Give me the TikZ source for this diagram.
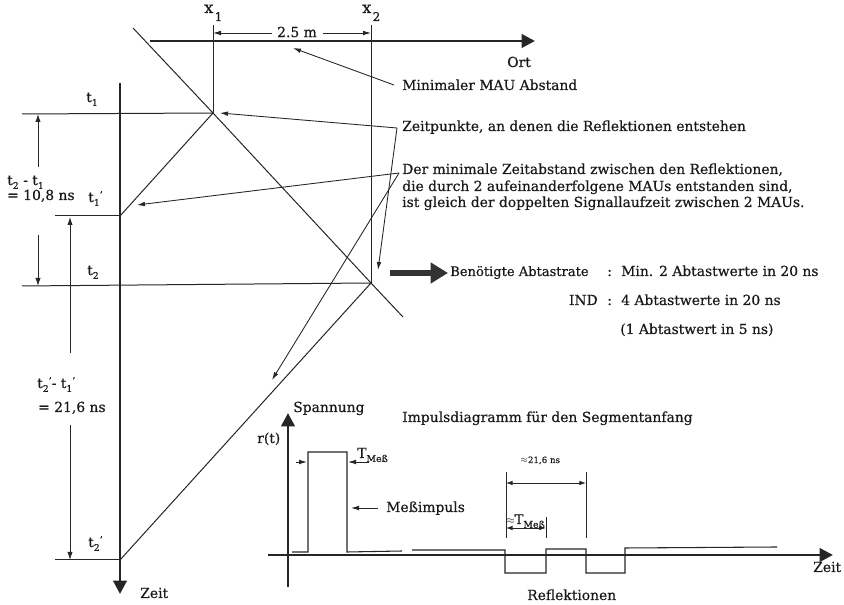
\documentclass[tikz,border=0pt]{standalone}
\usepackage{fontspec}
\setmainfont{DejaVu Serif}[FakeBold=0.5]
\usetikzlibrary{arrows.meta}

% lowered index as used in the labels t1, x1, T_Mess
\newcommand{\lowsub}[1]{\raisebox{-0.55ex}{\scriptsize #1}}
\newcommand{\primed}{\raisebox{0.55ex}{\scriptsize '}}

\begin{document}
\begin{tikzpicture}[x=0.75pt,y=-0.75pt,
  every node/.style={inner sep=0pt, text=black!90},
  txt/.style={font=\fontsize{10.4}{12}\selectfont, anchor=base west},
  small/.style={font=\fontsize{6.5}{8}\selectfont, anchor=base west},
  fine/.style={draw=black!85, line width=0.75pt},
  axisline/.style={draw=black!85, line width=2.2pt, -{Triangle[length=10pt,width=10pt]}},
  tip/.style={draw=black!85, line width=0.65pt, -{Latex[length=6pt,width=3.5pt]}},
  dimtip/.style={draw=black!85, line width=0.65pt, -{Latex[length=6pt,width=4pt]}},
  twotip/.style={draw=black!85, line width=0.65pt, {Latex[length=5pt,width=3.5pt]}-{Latex[length=5pt,width=3.5pt]}},
  signal/.style={draw=black!85, line width=0.8pt},
  fatarrow/.style={draw=black!80, line width=3.8pt, -{Triangle[length=13pt,width=15pt]}},
]
\useasboundingbox (0,0) rectangle (844,605);

% ---------- space-time diagram ----------
\coordinate (O0) at (150,41);
\coordinate (O1) at (535,41);
\coordinate (Z0) at (120,83);
\coordinate (Z1) at (120,594);
\coordinate (D0) at (133,28);
\coordinate (T1) at (213,113);
\coordinate (T2) at (371,283);
\coordinate (D1) at (403,317);
\coordinate (X1top) at (213,25);
\coordinate (X2top) at (371,25);
\coordinate (T1p) at (120,216);
\coordinate (T2p) at (120,560);
\coordinate (L1) at (22,114);
\coordinate (L1p) at (55,216);
\coordinate (L2) at (22,286);
\coordinate (L2p) at (55,560);

\draw[axisline] (O0) -- (O1);
\draw[axisline] (Z0) -- (Z1);
\node[txt] (ort) at (507,67) {Ort};
\node[txt] (zeitv) at (140,598) {Zeit};

% signal paths and station positions
\draw[fine] (D0) -- (T1) -- (T2) -- (D1);
\draw[fine] (X1top) -- (T1);
\draw[fine] (X2top) -- (T2);
\draw[fine] (T1) -- (T1p);
\draw[fine] (T2) -- (T2p);
\draw[fine] (L1) -- (T1);
\draw[fine] (L1p) -- (T1p);
\draw[fine] (L2) -- (T2);
\draw[fine] (L2p) -- (T2p);

% station labels and their distance
\node[txt] (x1) at (204,13) {\large x\hspace{1pt}\raisebox{-6pt}{\small 1}};
\node[txt] (x2) at (362,13) {\large x\hspace{1pt}\raisebox{-6pt}{\small 2}};
\node[font=\fontsize{10.4}{12}\selectfont] (dist) at (297,32) {2.5 m};
\coordinate (dL) at (272,33);
\coordinate (dR) at (323,33);
\draw[tip] (dL) -- (X1top |- dL);
\draw[tip] (dR) -- (X2top |- dR);

% time labels
\node[txt] (t1) at (86,102) {t\lowsub{1}};
\node[txt] (t1p) at (88,202) {t\lowsub{1}\primed};
\node[txt] (t2) at (87,275) {t\lowsub{2}};
\node[txt] (t2p) at (88,547) {t\lowsub{2}\primed};

% time differences
\coordinate (A1) at (38,114);
\coordinate (A1m) at (38,167);
\coordinate (A2m) at (38,235);
\coordinate (A2) at (38,286);
\draw[dimtip] (A1m) -- (A1);
\draw[dimtip] (A2m) -- (A2);
\node[txt] (dt1a) at (7,185) {t\lowsub{2} - t\lowsub{1}};
\node[txt] (dt1b) at (7,200) {= 10,8 ns};

\coordinate (B1) at (70,217);
\coordinate (B1m) at (70,353);
\coordinate (B2m) at (70,425);
\coordinate (B2) at (70,560);
\draw[dimtip] (B1m) -- (B1);
\draw[dimtip] (B2m) -- (B2);
\node[txt] (dt2a) at (37,388) {t\lowsub{2}\primed- t\lowsub{1}\primed};
\node[txt] (dt2b) at (38,412) {= 21,6 ns};

% annotations
\node[txt] (mau) at (402,90) {Minimaler MAU Abstand};
\coordinate (J0) at (394,85);
\coordinate (P0) at (293,48);
\draw[tip] (J0) -- (P0);

\node[txt] (zp) at (402,131) {Zeitpunkte, an denen die Reflektionen entstehen};
\coordinate (J1) at (397,128);
\coordinate (P1) at (220,113);
\coordinate (P2) at (378,270);
\draw[tip] (J1) -- (P1);
\draw[tip] (J1) -- (P2);

\node[txt] (der1) at (402,174) {Der minimale Zeitabstand zwischen den Reflektionen,};
\node[txt] (der2) at (402,191) {die durch 2 aufeinanderfolgene MAUs entstanden sind,};
\node[txt] (der3) at (402,207) {ist gleich der doppelten Signallaufzeit zwischen 2 MAUs.};
\coordinate (J2) at (399,173);
\coordinate (P3) at (137,205);
\coordinate (P4) at (272,380);
\draw[tip] (J2) -- (P3);
\draw[tip] (J2) -- (P4);

% sampling rate
\coordinate (F0) at (390,273);
\coordinate (F1) at (448,273);
\draw[fatarrow] (F0) -- (F1);
\node[txt, font=\fontsize{9.8}{12}\selectfont] (rate) at (450,276) {Benötigte Abtastrate};
\node[txt] (colA) at (607,276) {:};
\node[txt] (minA) at (621,276) {Min. 2 Abtastwerte in 20 ns};
\node[txt, anchor=base east] (ind) at (598,305) {IND};
\node[txt] (colB) at (607,305) {:};
\node[txt] (indA) at (621,305) {4 Abtastwerte in 20 ns};
\node[txt] (indB) at (620,334) {(1 Abtastwert in 5 ns)};

% ---------- pulse diagram ----------
\coordinate (V0) at (288,587);
\coordinate (V1) at (288,413);
\coordinate (H0) at (268,555);
\coordinate (H1) at (833,555);
\draw[axisline] (V0) -- (V1);
\draw[axisline] (H0) -- (H1);
\node[txt] (span) at (293,412) {Spannung};
\node[txt] (title) at (402,422) {Impulsdiagramm für den Segmentanfang};
\node[txt] (rt) at (257,443) {r(t)};
\node[txt] (zeith) at (813,572) {Zeit};
\node[txt] (refl) at (527,600) {Reflektionen};

\draw[signal] (292,552) -- (308,552) -- (308,452) -- (347,452) -- (347,552) -- (402,551);
\draw[signal] (412,550) -- (505,550) -- (505,573) -- (546,573) -- (546,549)
  -- (586,549) -- (586,573) -- (625,573) -- (625,548) -- (777,547);

% pulse width of the test pulse
\coordinate (M0) at (296,462);
\coordinate (M1) at (307,462);
\coordinate (M2) at (369,462);
\coordinate (M3) at (348,462);
\draw[tip] (M0) -- (M1);
\draw[tip] (M2) -- (M3);
\node[txt] (tmess) at (357,458) {T\lowsub{Meß}};
\coordinate (I0) at (378,508);
\coordinate (I1) at (351,508);
\draw[tip] (I0) -- (I1);
\node[txt] (imp) at (386,512) {Meßimpuls};

% spacing of the reflections
\coordinate (R1a) at (506,472);
\coordinate (R1b) at (506,538);
\coordinate (R2a) at (586,472);
\coordinate (R2b) at (586,538);
\coordinate (R3a) at (546,517);
\coordinate (R3b) at (546,538);
\draw[fine, line width=0.5pt] (R1a) -- (R1b);
\draw[fine, line width=0.5pt] (R2a) -- (R2b);
\draw[fine, line width=0.5pt] (R3a) -- (R3b);
\draw[twotip] (R1a |- 0,483) -- (R2a |- 0,483);
\draw[twotip] (R1a |- 0,528) -- (R3a |- 0,528);
\node[small] (ns216) at (520,463) {$\approx$21,6 ns};
\node[txt] (trefl) at (506,524) {\scriptsize$\approx$\normalsize T\lowsub{Meß}};
\end{tikzpicture}
\end{document}
